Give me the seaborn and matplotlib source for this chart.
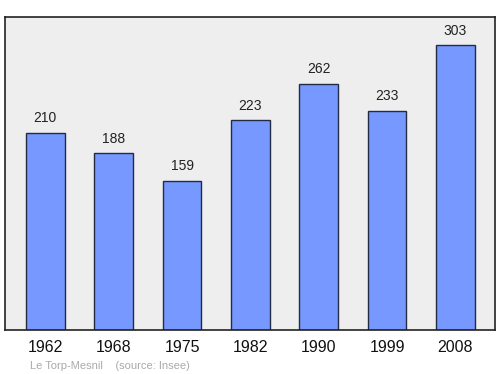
import matplotlib
matplotlib.use("Agg")
import matplotlib.pyplot as plt
import seaborn as sns
import pandas as pd

years = ["1962", "1968", "1975", "1982", "1990", "1999", "2008"]
population = [210, 188, 159, 223, 262, 233, 303]
footer_text = "Le Torp-Mesnil    (source: Insee)"

sns.set_style("white")
plt.rcParams['font.family'] = ['Liberation Sans', 'DejaVu Sans']

df = pd.DataFrame({"year": years, "pop": population})

fig = plt.figure(figsize=(5.0, 3.74), dpi=100)
ax = fig.add_axes([0.01, 0.1176, 0.98, 0.8369])
ax.set_facecolor("#eeeeee")

sns.barplot(data=df, x="year", y="pop", color="#7799ff", saturation=1,
            width=0.57, edgecolor="#222a44", linewidth=1.0, ax=ax)

for i, v in enumerate(population):
    ax.text(i, v + 8, str(v), ha="center", va="bottom", fontsize=10, color="#222222")

ax.set_xlim(-0.59, 6.58)
ax.set_ylim(0, 333)
ax.set_yticks([])
ax.set_xlabel("")
ax.set_ylabel("")
ax.tick_params(axis="x", length=0, labelsize=11.5, pad=7, colors="#111111")
for s in ax.spines.values():
    s.set_visible(True)
    s.set_color("#222222")
    s.set_linewidth(1.2)

fig.text(30/500, 1 - 366/374, footer_text, fontsize=8, color="#aaaaaa", va="center", ha="left")

fig.savefig("out.png", dpi=100)
